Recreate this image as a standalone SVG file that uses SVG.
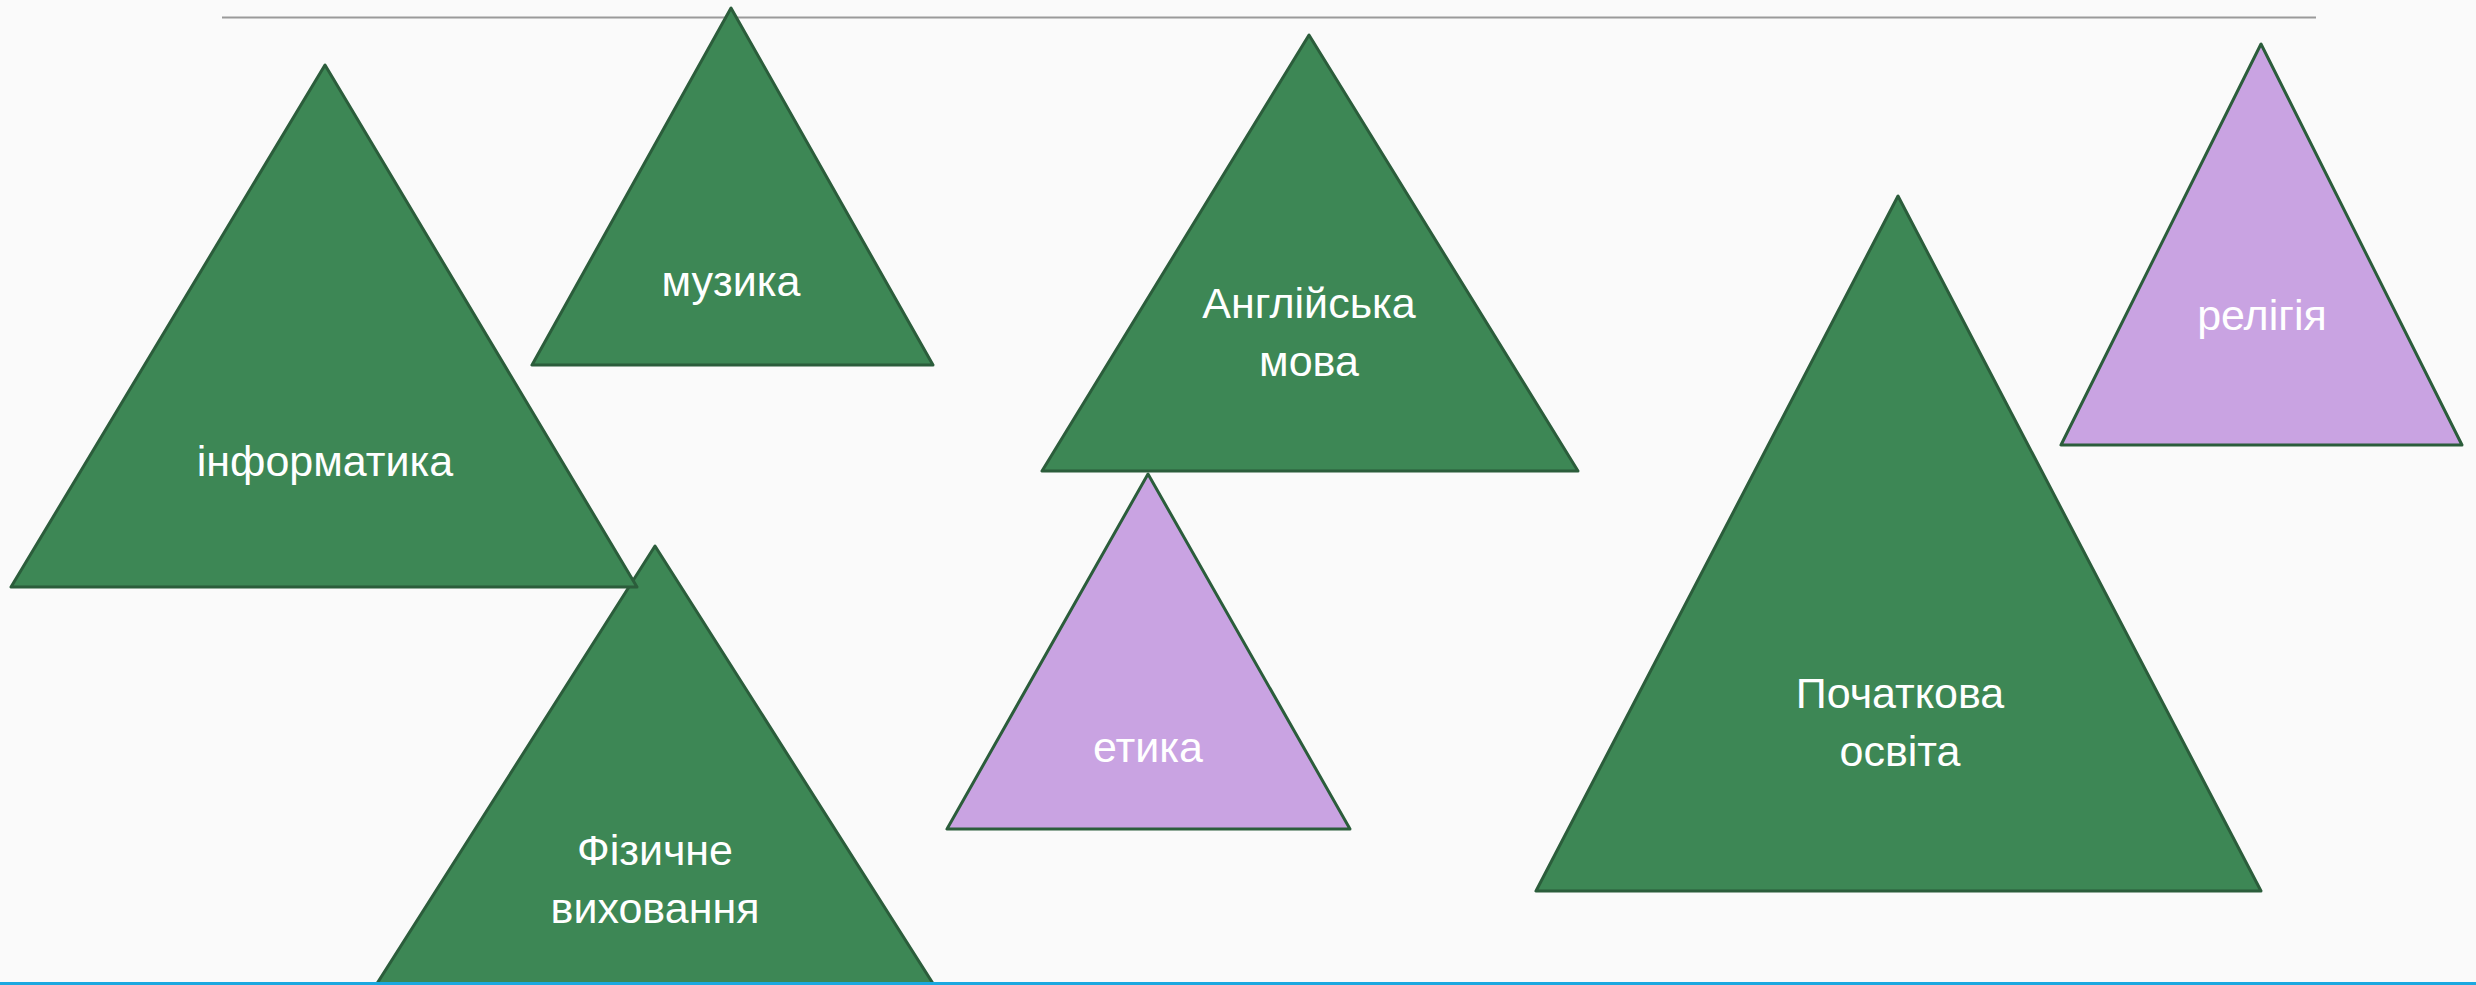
<svg xmlns="http://www.w3.org/2000/svg" width="2476" height="985" viewBox="0 0 2476 985">
<style>
.g{fill:#3d8755;stroke:#2b5d3b;stroke-width:3;stroke-linejoin:round}
.p{fill:#c9a3e2;stroke:#2b5d3b;stroke-width:3;stroke-linejoin:round}
.t{font-family:"Liberation Sans",Arial,sans-serif;font-size:43px;fill:#ffffff;text-anchor:middle}
</style>
<rect x="0" y="0" width="2476" height="985" fill="#fafafa"/>
<line x1="222" y1="17.5" x2="2316" y2="17.5" stroke="#9a9a9a" stroke-width="2"/>
<g id="fizychne">
<polygon class="g" points="655,546 303,1100 1007,1100"/>
<text class="t" x="655" y="865">Фізичне</text>
<text class="t" x="655" y="923">виховання</text>
</g>
<g id="informatyka">
<polygon class="g" points="325,65 11,587 637,587"/>
<text class="t" x="325" y="476">інформатика</text>
</g>
<g id="muzyka">
<polygon class="g" points="731,8 532,365 933,365"/>
<text class="t" x="731" y="296">музика</text>
</g>
<g id="angliyska">
<polygon class="g" points="1309,35 1042,471 1578,471"/>
<text class="t" x="1309" y="318">Англійська</text>
<text class="t" x="1309" y="376">мова</text>
</g>
<g id="religiya">
<polygon class="p" points="2261,44 2061,445 2462,445"/>
<text class="t" x="2262" y="330">релігія</text>
</g>
<g id="etyka">
<polygon class="p" points="1148,474 947,829 1350,829"/>
<text class="t" x="1148" y="762">етика</text>
</g>
<g id="pochatkova">
<polygon class="g" points="1898,196 1536,891 2261,891"/>
<text class="t" x="1900" y="708">Початкова</text>
<text class="t" x="1900" y="766">освіта</text>
</g>
<g id="connectors"></g>
<line x1="0" y1="983.5" x2="2476" y2="983.5" stroke="#1ba8e0" stroke-width="3"/>
</svg>
